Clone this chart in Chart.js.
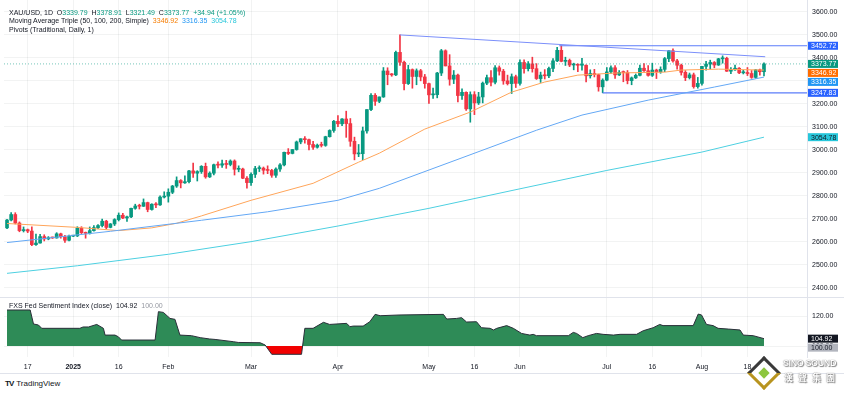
<!DOCTYPE html>
<html>
<head>
<meta charset="utf-8">
<script src="https://cdn.jsdelivr.net/npm/chart.js@4.4.1/dist/chart.umd.min.js"></script>
<style>
  body { margin: 0; background: #fff; font-family: "Liberation Sans", Arial, sans-serif; color: #131722; }
  #wrap { position: relative; width: 844px; height: 393px; overflow: hidden; }
  .box { position: absolute; left: 0; width: 844px; }
  #topBox { top: 0; height: 297px; }
  #lowBox { top: 297px; height: 76px; border-top: 1px solid #e0e3eb; box-sizing: border-box; }
  .lg { position: absolute; left: 9px; font-size: 7px; line-height: 8px; white-space: nowrap; }
  .g { color: #089981; }
  .o { color: #f57c00; }
  .b { color: #2196f3; }
  .c { color: #26c6da; }
  .gr { color: #9598a1; }
  #tv { position: absolute; left: 5px; top: 379px; font-size: 8px; color: #131722; }
  #tv b { font-size: 8px; letter-spacing: -1px; margin-right: 3px; }
  #bottomLine { position: absolute; left: 0; top: 373px; width: 844px; border-top: 1px solid #e0e3eb; }
  #logo { position: absolute; left: 744px; top: 354px; width: 100px; height: 39px; }
  #logo .dia { position: absolute; left: 8px; top: 7px; width: 18px; height: 18px; transform: rotate(45deg);
               border: 3px solid #b8941f; border-left-color: #3a3a3a; border-top-color: #3a3a3a; background: #fff; }
  #logo .dia i { position: absolute; left: 5px; top: 5px; width: 8px; height: 8px; background: #8dc63f; }
  #logo .t1 { position: absolute; left: 39px; top: 4px; font: bold 9px "Liberation Sans", Arial; color: #fff;
              text-shadow: 0 0 1px #555, 1px 1px 1px #888; white-space: nowrap; letter-spacing: -0.4px; }
  #logo .t2 { position: absolute; left: 40px; top: 17px; font: bold 9px "Noto Sans CJK TC"; color: #fff; letter-spacing: 5px;
              text-shadow: 0 0 1px #555, 1px 1px 1px #888; white-space: nowrap; }
</style>
</head>
<body>
<div id="wrap">
  <div class="box" id="topBox"><canvas id="price"></canvas></div>
  <div class="box" id="lowBox"><canvas id="fed"></canvas></div>
  <div id="bottomLine"></div>

  <div class="lg" style="top:9px">XAU/USD, 1D&nbsp; O<span class="g">3339.79</span>&nbsp; H<span class="g">3378.91</span>&nbsp; L<span class="g">3321.49</span>&nbsp; C<span class="g">3373.77</span>&nbsp; <span class="g">+34.94 (+1.05%)</span></div>
  <div class="lg" style="top:17px">Moving Average Triple (50, 100, 200, Simple)&nbsp; <span class="o">3346.92</span>&nbsp; <span class="b">3316.35</span>&nbsp; <span class="c">3054.78</span></div>
  <div class="lg" style="top:26px">Pivots (Traditional, Daily, 1)</div>
  <div class="lg" style="top:302px">FXS Fed Sentiment Index (close)&nbsp; 104.92&nbsp; <span class="gr">100.00</span></div>

  <div id="tv"><b>TV</b>TradingView</div>
  <div id="logo"><div class="dia"><i></i></div><div class="t1">SINO SOUND</div><div class="t2">漢聲集團</div></div>
</div>

<script>
// daily candles, 10 Dec 2024 .. 22 Aug 2025 (index = trading day)
var open = [
  2660,2694,2718,2681,2648,2652,2646,2587,2594,2622,
  2612,2617,2616,2634,2621,2606,2624,2625,2658,2639,
  2636,2648,2661,2670,2689,2662,2677,2696,2715,2703,
  2708,2745,2755,2754,2770,2740,2763,2760,2794,2798,
  2815,2842,2866,2856,2861,2908,2898,2905,2928,2882,
  2898,2935,2933,2939,2936,2951,2915,2916,2876,2857,
  2893,2918,2920,2911,2910,2889,2916,2934,2989,2984,
  3001,3034,3048,3044,3023,3011,3020,3019,3057,3084,
  3124,3113,3134,3114,3037,2982,2983,3082,3175,3237,
  3211,3230,3343,3327,3326,3424,3381,3288,3349,3319,
  3344,3317,3288,3239,3240,3334,3431,3365,3307,3325,
  3236,3250,3178,3240,3204,3230,3290,3314,3294,3357,
  3342,3300,3288,3318,3289,3380,3353,3374,3353,3310,
  3325,3322,3354,3387,3433,3385,3389,3369,3370,3368,
  3368,3322,3332,3327,3274,3303,3339,3357,3326,3337,
  3336,3301,3313,3324,3355,3344,3324,3347,3339,3350,
  3397,3431,3387,3368,3337,3314,3326,3275,3289,3363,
  3373,3380,3369,3396,3398,3342,3348,3355,3335,3336,
  3332,3315,3348,3339.79
];
var high = [
  2697,2726,2726,2686,2664,2655,2664,2633,2632,2630,
  2622,2620,2639,2637,2627,2629,2626,2665,2665,2642,
  2664,2670,2674,2698,2693,2679,2700,2725,2723,2711,
  2746,2763,2763,2786,2772,2765,2770,2799,2817,2830,
  2845,2882,2870,2886,2911,2942,2909,2931,2942,2904,
  2938,2947,2955,2954,2956,2956,2930,2920,2883,2900,
  2928,2930,2925,2930,2915,2921,2940,2990,3005,3001,
  3038,3048,3057,3047,3037,3025,3033,3059,3087,3128,
  3149,3136,3168,3136,3055,3023,3099,3175,3245,3245,
  3230,3358,3357,3332,3430,3500,3386,3368,3352,3352,
  3350,3328,3290,3269,3337,3437,3435,3414,3345,3329,
  3265,3252,3252,3253,3250,3295,3325,3345,3366,3365,
  3350,3325,3330,3325,3392,3392,3384,3403,3375,3338,
  3349,3360,3397,3446,3452,3403,3395,3377,3374,3398,
  3370,3348,3350,3329,3309,3358,3365,3366,3345,3343,
  3345,3317,3330,3369,3375,3366,3377,3351,3361,3402,
  3433,3439,3394,3373,3345,3334,3334,3315,3363,3385,
  3390,3384,3398,3409,3403,3358,3369,3358,3346,3358,
  3345,3350,3351,3378.91
];
var low = [
  2657,2690,2677,2643,2642,2639,2583,2584,2593,2603,
  2608,2614,2615,2615,2597,2603,2622,2622,2635,2615,
  2633,2646,2656,2664,2656,2660,2670,2690,2700,2688,
  2704,2741,2742,2753,2730,2737,2748,2758,2790,2772,
  2809,2836,2834,2853,2856,2880,2864,2897,2876,2879,
  2891,2921,2923,2919,2930,2890,2904,2874,2833,2845,
  2879,2905,2894,2896,2880,2880,2906,2930,2979,2982,
  2998,3026,3029,2999,3002,3007,3012,3015,3055,3076,
  3100,3105,3054,3015,2956,2970,2957,3072,3170,3193,
  3205,3228,3283,3320,3323,3367,3260,3284,3268,3283,
  3300,3268,3202,3223,3226,3323,3365,3281,3288,3208,
  3219,3171,3120,3153,3197,3204,3283,3278,3287,3325,
  3285,3282,3245,3271,3281,3333,3343,3338,3306,3293,
  3308,3314,3340,3384,3383,3367,3362,3348,3340,3347,
  3295,3312,3317,3255,3248,3300,3332,3311,3323,3296,
  3287,3283,3310,3322,3341,3320,3319,3310,3333,3340,
  3383,3381,3351,3325,3301,3308,3268,3268,3281,3346,
  3352,3357,3367,3377,3341,3331,3345,3331,3330,3323,
  3311,3311,3325,3321.49
];
var close = [
  2694,2718,2681,2648,2652,2646,2587,2594,2622,2612,
  2617,2616,2634,2621,2606,2624,2625,2658,2639,2636,
  2648,2661,2670,2689,2662,2677,2696,2715,2703,2708,
  2745,2755,2754,2770,2740,2763,2760,2794,2798,2815,
  2842,2866,2856,2861,2908,2898,2905,2928,2882,2898,
  2935,2933,2939,2936,2951,2915,2916,2876,2857,2893,
  2918,2920,2911,2910,2889,2916,2934,2989,2984,3001,
  3034,3048,3044,3023,3011,3020,3019,3057,3084,3124,
  3113,3134,3114,3037,2982,2983,3082,3175,3237,3211,
  3230,3343,3327,3326,3424,3381,3288,3349,3319,3344,
  3317,3288,3239,3240,3334,3431,3365,3307,3325,3236,
  3250,3178,3240,3204,3230,3290,3314,3294,3357,3342,
  3300,3288,3318,3289,3380,3353,3374,3353,3310,3325,
  3322,3354,3387,3433,3385,3389,3369,3370,3368,3368,
  3322,3332,3327,3274,3303,3339,3357,3326,3337,3336,
  3301,3313,3324,3355,3344,3324,3347,3339,3350,3397,
  3431,3387,3368,3337,3314,3326,3275,3289,3363,3373,
  3380,3369,3396,3398,3342,3348,3355,3335,3336,3332,
  3315,3348,3339.79,3373.77
];

// moving averages (candle index, price)
var ma50X  = [0, 17, 27, 35, 41, 47, 59, 74, 85, 90, 101, 112, 122, 130, 138, 147, 159, 163, 172, 183];
var ma50Y  = [2679, 2662, 2648, 2660, 2680, 2712, 2780, 2854, 2946, 2985, 3090, 3164, 3251, 3295, 3325, 3334, 3338, 3347, 3351, 3346.92];
var ma100X = [0, 25, 47, 63, 80, 90, 110, 128, 139, 155, 171, 183];
var ma100Y = [2596, 2645, 2693, 2730, 2780, 2832, 2965, 3085, 3151, 3216, 3273, 3316.35];
var ma200X = [0, 17, 39, 59, 80, 102, 124, 145, 168, 183];
var ma200Y = [2462, 2495, 2545, 2600, 2668, 2745, 2830, 2910, 2990, 3054.78];

// drawn lines
var trendX = [95, 183.3];
var trendY = [3500, 3405];
var pivotHiX = 133.5, pivotHi = 3452.72;
var pivotLoX = 144, pivotLo = 3247.83;
var lastPrice = 3373.77;

// FXS Fed Sentiment Index (candle index, value)
var fedX = [0, 5.6, 6.4, 7.6, 8.4, 17.6, 18.4, 19.7, 21.7, 23.3, 23.7, 26.1, 26.9, 27.7, 35.8, 36.6, 37.8, 39.4, 40.6, 41.8,
            44.6, 46.7, 49, 50.3, 54.7, 55.9, 61.2, 62.4, 64, 71.2, 72, 74, 76.5, 78, 82.1, 82.9, 83.7, 86.1, 87.7, 89,
            90.2, 95, 105.5, 106.3, 108.7, 109.9, 111.1, 113.5, 114.7, 116.8, 117.6, 118.4, 120.8, 122.4, 124.4, 126.4, 127.2, 128, 135.7, 136.9,
            137.7, 139.2, 140.5, 142.5, 144.1, 146.6, 148.2, 152.2, 153.8, 156.2, 157.8, 158.6, 165.9, 167.1, 167.9, 169.1, 170.7, 171.9, 174.4, 177.2,
            178, 180.4, 183];
var fedY = [124, 124, 114.7, 114, 111.8, 111.8, 112.7, 112.7, 114.4, 111.8, 107.3, 107.3, 106.2, 104, 104, 122.9, 122.4, 118.4, 117.8, 107.3,
            106.9, 105.6, 104.7, 104.4, 102.9, 102.4, 102.2, 100.7, 94.5, 94.5, 111.8, 111.8, 115.8, 114.4, 115.1, 112.9, 113.3, 113.3, 116.2, 121.1,
            120.2, 120.7, 121.1, 118, 118.4, 118.9, 116, 116.2, 112.2, 111.8, 110.7, 111.8, 113.6, 111.8, 108.4, 107.3, 107.8, 106.9, 106.9, 109.1,
            108.4, 105.6, 106.9, 108.4, 107.8, 107.3, 107.8, 107.8, 110.2, 112.2, 114.4, 113.6, 113.6, 121.3, 120.7, 114.4, 113.6, 111.8, 111.3, 110.7,
            107.3, 106.9, 104.92];

// axes
var priceTicks = [2400, 2500, 2600, 2700, 2800, 2900, 3000, 3100, 3200, 3300, 3400, 3500, 3600];
var fedTicks = [100, 120];
var dateTickX = [5, 16, 27, 39, 59, 80, 102, 113, 124, 145, 156, 168, 179];
var dateTickText = ["17", "2025", "16", "Feb", "Mar", "Apr", "May", "16", "Jun", "Jul", "16", "Aug", "18"];

var xMin = -0.73, xMax = 193.4;
var UP = '#089981', DOWN = '#f23645';
var GRID = 'rgba(42,46,57,0.06)';
var FONT = { family: '"Liberation Sans", Arial, sans-serif', size: 7 };

function pts(xs, ys) {
  return xs.map(function (x, i) { return { x: x, y: ys[i] }; });
}

var wicks = [], bodies = [], colors = [];
for (var i = 0; i < close.length; i++) {
  wicks.push({ x: i, y: [low[i], high[i]] });
  bodies.push({ x: i, y: [open[i], close[i]] });
  colors.push(close[i] >= open[i] ? UP : DOWN);
}

// price tags on the right scale
var tagPlugin = {
  id: 'tags',
  afterDraw: function (chart, args, opts) {
    var ctx = chart.ctx, y = chart.scales.y;
    var x0 = chart.chartArea.right + 1;
    var prev = -99;
    ctx.save();
    ctx.font = '7px "Liberation Sans", Arial';
    ctx.textBaseline = 'middle';
    opts.items.forEach(function (t) {
      var py = y.getPixelForValue(t.v);
      if (py < prev + 9) py = prev + 9;
      prev = py;
      ctx.fillStyle = t.bg;
      ctx.fillRect(x0, py - 4, 30, 8);
      ctx.fillStyle = t.fg;
      ctx.fillText(t.v.toFixed(2), x0 + 3, py + 0.5);
    });
    ctx.restore();
  }
};

function noPad(axis) {
  axis.paddingTop = 0; axis.paddingBottom = 0; axis.paddingLeft = 0; axis.paddingRight = 0;
}

function xAxis(showLabels) {
  return {
    type: 'linear', min: xMin, max: xMax, offset: false, bounds: 'data',
    afterBuildTicks: function (axis) { axis.ticks = dateTickX.map(function (v) { return { value: v }; }); },
    afterFit: function (axis) { axis.height = showLabels ? 16 : 0; noPad(axis); },
    grid: { color: GRID, drawTicks: false, offset: false },
    border: { display: false },
    ticks: {
      display: showLabels, autoSkip: false, maxRotation: 0, padding: 6, color: '#131722',
      font: function (c) { return { family: FONT.family, size: 7, weight: dateTickText[c.index] === '2025' ? 'bold' : 'normal' }; },
      callback: function (v, i) { return dateTickText[i]; }
    }
  };
}

function yAxis(min, max, ticks) {
  return {
    position: 'right', min: min, max: max,
    afterBuildTicks: function (axis) { axis.ticks = ticks.map(function (v) { return { value: v }; }); },
    afterFit: function (axis) { axis.width = 37; noPad(axis); },
    grid: { color: GRID, drawTicks: false },
    border: { display: true, color: '#e0e3eb' },
    ticks: { color: '#131722', font: FONT, padding: 5, callback: function (v) { return v.toFixed(2); } }
  };
}

function line(data, color, width, dash) {
  return { type: 'line', data: data, borderColor: color, borderWidth: width || 1, borderDash: dash || [],
           pointRadius: 0, fill: false, tension: 0, order: 0 };
}

new Chart(document.getElementById('price'), {
  type: 'bar',
  data: {
    datasets: [
      line(pts([xMin, xMax], [lastPrice, lastPrice]), 'rgba(8,153,129,0.55)', 1, [1, 2]),
      line(pts(ma200X, ma200Y), '#4dd0e1', 1),
      line(pts(ma100X, ma100Y), '#64a8f5', 1),
      line(pts(ma50X, ma50Y), '#ffa55a', 1),
      line(pts(trendX, trendY), '#7b8ffa', 1),
      line(pts([pivotHiX, xMax], [pivotHi, pivotHi]), '#5b7cfa', 1.2),
      line(pts([pivotLoX, xMax], [pivotLo, pivotLo]), '#5b7cfa', 1.2),
      { data: wicks, backgroundColor: colors, barThickness: 1, grouped: false, order: 3 },
      { data: bodies, backgroundColor: colors, barThickness: 3, minBarLength: 1, grouped: false, order: 2 }
    ]
  },
  options: {
    responsive: true, maintainAspectRatio: false, animation: false,
    layout: { padding: { left: 4, top: 0, right: 0, bottom: 0 } },
    plugins: {
      legend: { display: false }, tooltip: { enabled: false },
      tags: { items: [
        { v: 3452.72, bg: '#2962ff', fg: '#fff' },
        { v: 3373.77, bg: '#089981', fg: '#fff' },
        { v: 3346.92, bg: '#ff6d00', fg: '#fff' },
        { v: 3316.35, bg: '#2196f3', fg: '#fff' },
        { v: 3247.83, bg: '#2962ff', fg: '#fff' },
        { v: 3054.78, bg: '#26c6da', fg: '#131722' }
      ] }
    },
    scales: { x: xAxis(false), y: yAxis(2359, 3652, priceTicks) }
  },
  plugins: [tagPlugin]
});

new Chart(document.getElementById('fed'), {
  type: 'line',
  data: {
    datasets: [{
      data: pts(fedX, fedY),
      borderColor: '#2a2e39', borderWidth: 1, pointRadius: 0, tension: 0,
      fill: { value: 100, above: '#2e8b57', below: '#f20000' }
    }]
  },
  options: {
    responsive: true, maintainAspectRatio: false, animation: false,
    layout: { padding: { left: 4, top: 0, right: 0, bottom: 0 } },
    plugins: {
      legend: { display: false }, tooltip: { enabled: false },
      tags: { items: [
        { v: 104.92, bg: '#131722', fg: '#fff' },
        { v: 100.00, bg: '#b2b5be', fg: '#131722' }
      ] }
    },
    scales: { x: xAxis(true), y: yAxis(92.7, 132, fedTicks) }
  },
  plugins: [tagPlugin]
});
</script>
</body>
</html>
